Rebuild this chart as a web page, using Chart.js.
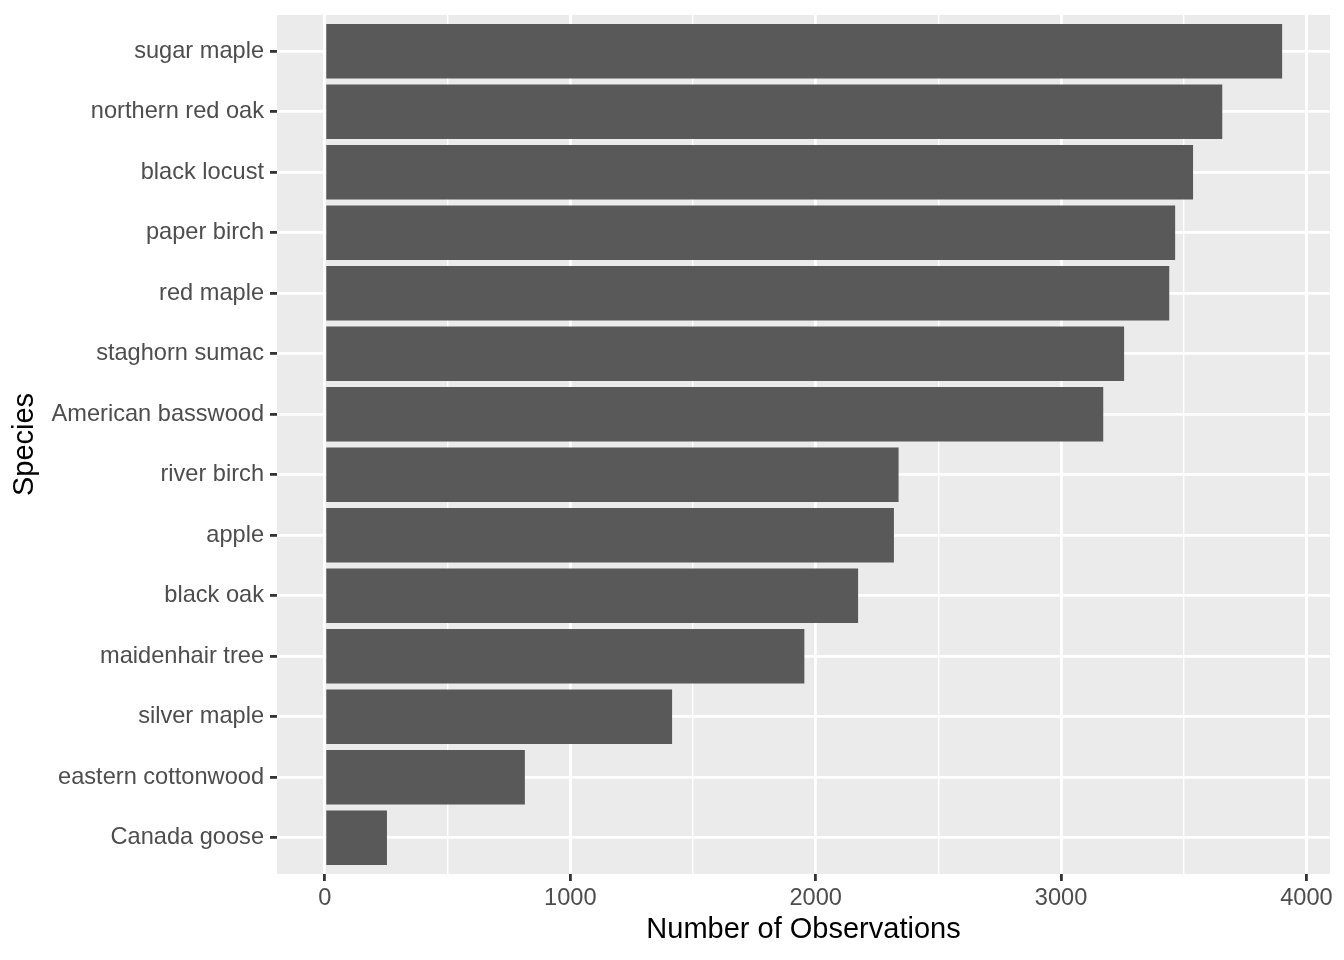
<!DOCTYPE html>
<html>
<head>
<meta charset="utf-8">
<script src="https://cdn.jsdelivr.net/npm/chart.js@4/dist/chart.umd.min.js"></script>
<style>
  html, body { margin: 0; padding: 0; background: #ffffff; }
  canvas { display: block; }
</style>
</head>
<body>
<canvas id="speciesChart" width="1344" height="960"></canvas>
<script>
// species from top to bottom, as in the picture
const species = [
  'sugar maple', 'northern red oak', 'black locust', 'paper birch', 'red maple',
  'staghorn sumac', 'American basswood', 'river birch', 'apple', 'black oak',
  'maidenhair tree', 'silver maple', 'eastern cottonwood', 'Canada goose',
];
const observations = [3901, 3657, 3538, 3465, 3441, 3257, 3172, 2338, 2319, 2173, 1954, 1415, 815, 253];
const xTickValues = [0, 500, 1000, 1500, 2000, 2500, 3000, 3500, 4000];
const xLabelValues = [0, 1000, 2000, 3000, 4000];

const tickFont = { family: 'Liberation Sans', size: 23.6 };
const titleFont = { family: 'Liberation Sans', size: 29 };
const isMajor = (v) => xLabelValues.includes(v);

const panelBackground = {
  id: 'panelBackground',
  beforeDraw(chart) {
    const { ctx, chartArea: a } = chart;
    ctx.save();
    ctx.fillStyle = '#ebebeb';
    ctx.fillRect(a.left, a.top, a.right - a.left, a.bottom - a.top);
    ctx.restore();
  },
};

const maxObs = Math.max(...observations);

new Chart(document.getElementById('speciesChart'), {
  type: 'bar',
  data: {
    datasets: [{
      data: observations.map((n, i) => ({ x: n, y: i + 1 })),
      backgroundColor: '#595959',
      borderWidth: 0,
      barPercentage: 0.9,
      categoryPercentage: 1.0,
    }],
  },
  options: {
    indexAxis: 'y',
    responsive: false,
    devicePixelRatio: 1,
    animation: false,
    layout: { padding: { top: 15, right: 14, left: 0, bottom: 0 } },
    plugins: {
      legend: { display: false },
      tooltip: { enabled: false },
    },
    scales: {
      x: {
        type: 'linear',
        min: -maxObs * 0.05,
        max: maxObs * 1.05,
        afterBuildTicks: (axis) => { axis.ticks = xTickValues.map((v) => ({ value: v })); },
        afterFit: (axis) => { axis.height = 86; axis.paddingLeft = 0; axis.paddingRight = 0; },
        border: { display: false },
        grid: {
          color: '#ffffff',
          lineWidth: (ctx) => (isMajor(ctx.tick.value) ? 2.8 : 1.4),
          tickColor: (ctx) => (isMajor(ctx.tick.value) ? '#333333' : 'rgba(0,0,0,0)'),
          tickWidth: 2.8,
          tickLength: 7,
        },
        ticks: {
          color: '#4d4d4d',
          font: tickFont,
          padding: 3,
          maxRotation: 0,
          autoSkip: false,
          callback: (v) => (isMajor(v) ? String(v) : ''),
        },
        title: {
          display: true,
          text: 'Number of Observations',
          color: '#000000',
          font: titleFont,
          padding: { top: 0, bottom: 13 },
        },
      },
      y: {
        type: 'linear',
        reverse: true,
        offset: false,
        min: 0.4,
        max: species.length + 0.6,
        afterBuildTicks: (axis) => { axis.ticks = species.map((s, i) => ({ value: i + 1 })); },
        afterFit: (axis) => { axis.width = 277; axis.paddingTop = 0; axis.paddingBottom = 0; },
        border: { display: false },
        grid: {
          offset: false,
          color: '#ffffff',
          lineWidth: 2.8,
          tickColor: '#333333',
          tickWidth: 2.8,
          tickLength: 7,
        },
        ticks: {
          color: '#4d4d4d',
          font: tickFont,
          padding: 6,
          autoSkip: false,
          callback: (v) => species[v - 1] || '',
        },
        title: {
          display: true,
          text: 'Species',
          color: '#000000',
          font: titleFont,
          padding: { top: 8, bottom: 0 },
        },
      },
    },
  },
  plugins: [panelBackground],
});
</script>
</body>
</html>
